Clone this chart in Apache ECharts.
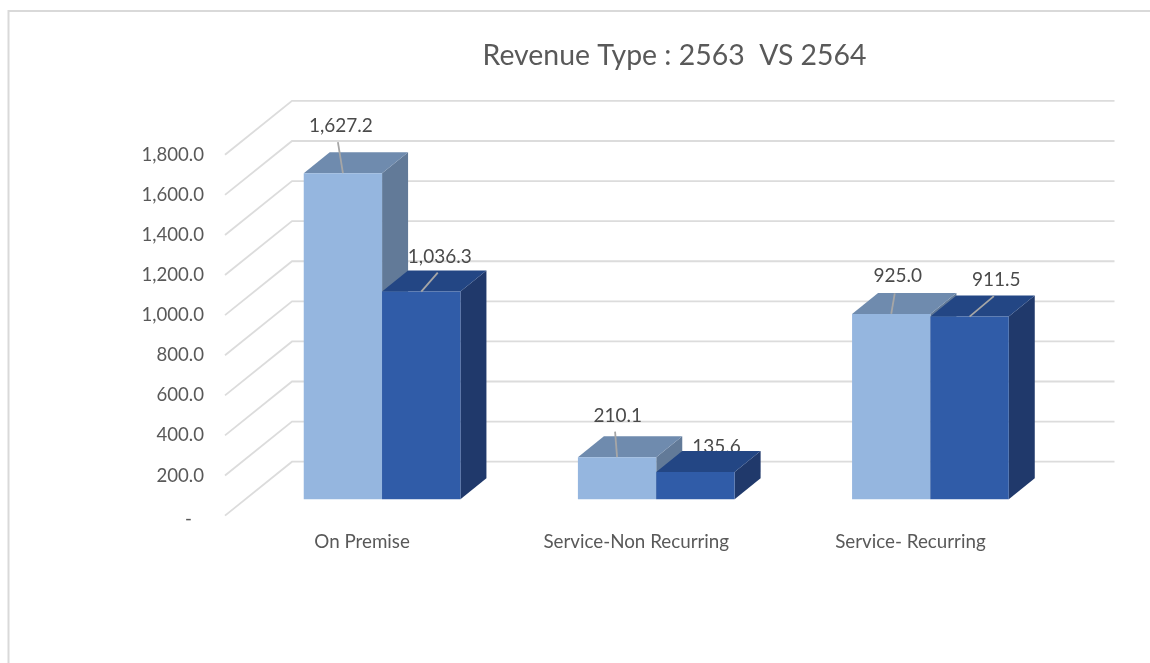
<!doctype html>
<html>
    <head>
        <meta charset="utf-8">
        <style>
            html, body { margin: 0; padding: 0; background: #fff; }
            #main { width: 1150px; height: 663px; }
        </style>
    </head>
    <body>
        <div id="main"></div>
        <script src="https://cdn.jsdelivr.net/npm/echarts@6/dist/echarts.min.js"></script>
        <script>
            var categories = ['On Premise', 'Service-Non Recurring', 'Service- Recurring'];
            var values2563 = [1627.2, 210.1, 925.0];
            var values2564 = [1036.3, 135.6, 911.5];
            var yTicks = [0, 200, 400, 600, 800, 1000, 1200, 1400, 1600, 1800];
            var titleText = 'Revenue Type : 2563  VS 2564';

            // pseudo 3d: how far the back wall and the bars sit behind the front plane
            var wallDepth = [67, -53.9];
            var barOffset = [20, -16.3];
            var barDepth = [26, -21];
            var barShare = 78.3 / 274;

            var shades2563 = { front: '#95B6DF', top: '#6F8BAE', side: '#627A98' };
            var shades2564 = { front: '#305CA8', top: '#234684', side: '#20396B' };

            // label offsets from the middle of the bar's top edge
            var labelPos2563 = [[-2, -47], [0.7, -41], [6.5, -38]];
            var labelPos2564 = [[18.5, -35], [21, -25], [26.7, -36.5]];
            var leaderFrom2563 = [[-5, -31], [-2, -25.6], [3.5, -20.5]];
            var leaderFrom2564 = [[16.5, -19], null, [24.3, -20.5]];

            function money(v) {
                return v.toLocaleString('en-US', { minimumFractionDigits: 1, maximumFractionDigits: 1 });
            }

            function barBox(api, slot) {
                var i = api.value(0);
                var base = api.coord([i, 0]);
                var top = api.coord([i, api.value(1)]);
                var w = api.size([1, 0])[0] * barShare;
                var x = base[0] + barOffset[0] - (slot === 0 ? w : 0);
                return { x: x, w: w, bottom: base[1] + barOffset[1], top: top[1] + barOffset[1] };
            }

            function face(points, color) {
                return {
                    type: 'polygon',
                    shape: { points: points },
                    style: { fill: color }
                };
            }

            function wallSeries() {
                return {
                    type: 'custom',
                    name: 'walls',
                    silent: true,
                    clip: false,
                    z: 1,
                    data: yTicks.map(function (v) { return [0, v]; }),
                    renderItem: function (params, api) {
                        var sys = params.coordSys;
                        var y = api.coord([0, api.value(1)])[1];
                        var bx = sys.x + wallDepth[0];
                        var by = y + wallDepth[1];
                        return {
                            type: 'polyline',
                            shape: { points: [[sys.x, y], [bx, by], [sys.x + sys.width + wallDepth[0], by]] },
                            style: { fill: null, stroke: '#DCDCDC', lineWidth: 1.8 }
                        };
                    }
                };
            }

            function barSeries(name, values, slot, shades, z) {
                return {
                    type: 'custom',
                    name: name,
                    silent: true,
                    clip: false,
                    z: z,
                    data: values.map(function (v, i) { return [i, v]; }),
                    renderItem: function (params, api) {
                        var b = barBox(api, slot);
                        var dx = barDepth[0], dy = barDepth[1];
                        var r = b.x + b.w;
                        return {
                            type: 'group',
                            children: [
                                face([[r, b.top], [r + dx, b.top + dy], [r + dx, b.bottom + dy], [r, b.bottom]], shades.side),
                                face([[b.x, b.top], [b.x + dx, b.top + dy], [r + dx, b.top + dy], [r, b.top]], shades.top),
                                face([[b.x, b.top], [r, b.top], [r, b.bottom], [b.x, b.bottom]], shades.front)
                            ]
                        };
                    }
                };
            }

            function labelSeries(values, slot, pos, z) {
                return {
                    type: 'custom',
                    silent: true,
                    clip: false,
                    z: z,
                    data: values.map(function (v, i) { return [i, v]; }),
                    renderItem: function (params, api) {
                        var b = barBox(api, slot);
                        var p = pos[params.dataIndex];
                        return {
                            type: 'text',
                            style: {
                                text: money(api.value(1)),
                                x: b.x + b.w / 2 + p[0],
                                y: b.top + p[1],
                                align: 'center',
                                verticalAlign: 'middle',
                                fontFamily: 'Lato',
                                fontSize: 19,
                                fill: '#4A4A4A'
                            }
                        };
                    }
                };
            }

            function leaderSeries(values, slot, from, z) {
                return {
                    type: 'custom',
                    silent: true,
                    clip: false,
                    z: z,
                    data: values.map(function (v, i) { return [i, v]; }),
                    renderItem: function (params, api) {
                        var f = from[params.dataIndex];
                        if (!f) {
                            return null;
                        }
                        var b = barBox(api, slot);
                        var cx = b.x + b.w / 2;
                        return {
                            type: 'line',
                            shape: { x1: cx + f[0], y1: b.top + f[1], x2: cx, y2: b.top },
                            style: { stroke: '#A6A6A6', lineWidth: 1.8 }
                        };
                    }
                };
            }

            var chart = echarts.init(document.getElementById('main'));

            chart.setOption({
                animation: false,
                backgroundColor: '#fff',
                textStyle: { fontFamily: 'Lato' },
                title: {
                    text: titleText,
                    left: 669.5,
                    top: 37,
                    textAlign: 'center',
                    textStyle: { fontFamily: 'Lato', fontSize: 28.4, fontWeight: 'normal', color: '#595959' }
                },
                graphic: [{
                    type: 'polyline',
                    silent: true,
                    shape: { points: [[8.5, 663], [8.5, 11], [1150, 11]] },
                    style: { fill: null, stroke: '#D9D9D9', lineWidth: 2 }
                }],
                grid: { left: 225, top: 154.8, width: 822.5, height: 360.8 },
                xAxis: {
                    type: 'category',
                    data: categories,
                    axisLine: { show: false },
                    axisTick: { show: false },
                    axisLabel: { interval: 0, margin: 17, fontSize: 18.8, color: '#595959' }
                },
                yAxis: {
                    type: 'value',
                    min: 0,
                    max: 1800,
                    interval: 200,
                    axisLine: { show: false },
                    axisTick: { show: false },
                    splitLine: { show: false },
                    axisLabel: {
                        margin: 21,
                        fontSize: 18.6,
                        color: '#595959',
                        formatter: function (v) {
                            return v === 0 ? '{zero|-}' : money(v);
                        },
                        rich: {
                            zero: { fontSize: 18.6, color: '#595959', padding: [6, 12, 0, 0] }
                        }
                    }
                },
                series: [
                    wallSeries(),
                    barSeries('2563', values2563, 0, shades2563, 2),
                    labelSeries(values2563, 0, labelPos2563, 3),
                    labelSeries(values2564, 1, labelPos2564, 3),
                    barSeries('2564', values2564, 1, shades2564, 4),
                    leaderSeries(values2563, 0, leaderFrom2563, 5),
                    leaderSeries(values2564, 1, leaderFrom2564, 5)
                ]
            });

            window.onresize = chart.resize;
        </script>
    </body>
</html>
